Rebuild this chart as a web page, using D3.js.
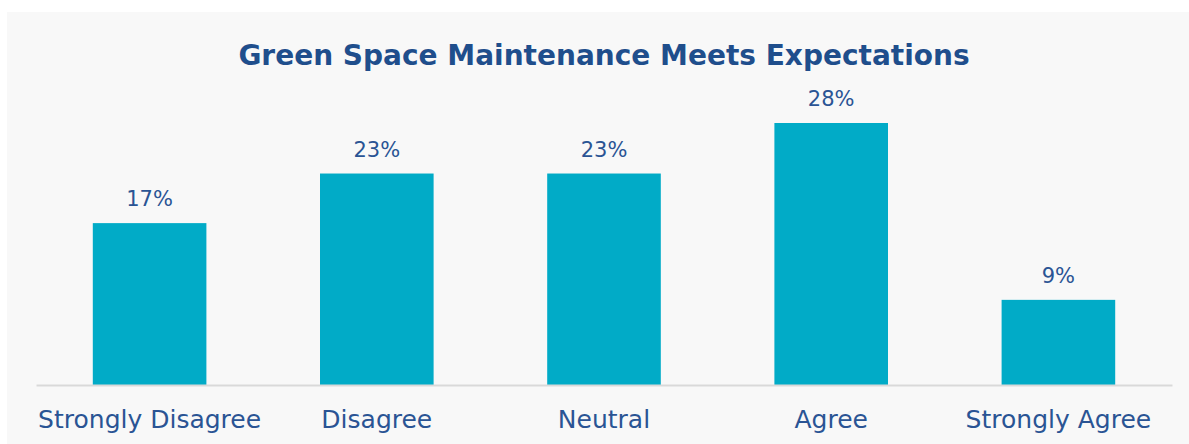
<!DOCTYPE html>
<html>
<head>
<meta charset="utf-8">
<script src="https://cdn.jsdelivr.net/npm/d3@7"></script>
<style>
  body { margin: 0; background: #fff; }
  svg { display: block; }
</style>
</head>
<body>
<div id="chart"></div>
<script>
// data
let categories = ['Strongly Disagree', 'Disagree', 'Neutral', 'Agree', 'Strongly Agree']
let shares = [0.173, 0.226, 0.226, 0.28, 0.091]
let title = 'Green Space Maintenance Meets Expectations'

let fullWidth = 1189
let fullHeight = 444
let margin = { top: 12, left: 36, right: 17, bottom: 59 }
let width = fullWidth - margin.left - margin.right
let height = fullHeight - margin.bottom

let svg = d3
  .select('#chart')
  .append('svg')
  .attr('width', fullWidth)
  .attr('height', fullHeight)

// grey panel behind everything
svg
  .append('rect')
  .attr('x', 7)
  .attr('y', 12)
  .attr('width', fullWidth - 7)
  .attr('height', fullHeight - 12)
  .attr('fill', '#f8f8f8')

let xPositionScale = d3
  .scaleBand()
  .domain(categories)
  .range([margin.left, margin.left + width])
  .paddingInner(0.5)
  .paddingOuter(0.25)

let yPositionScale = d3
  .scaleLinear()
  .domain([0, 0.28])
  .range([height, 123])

let data = categories.map((c, i) => ({ category: c, share: shares[i] }))

svg
  .append('text')
  .attr('x', margin.left + width / 2)
  .attr('y', 65)
  .attr('text-anchor', 'middle')
  .attr('font-family', 'DejaVu Sans')
  .attr('font-weight', 'bold')
  .attr('font-size', 28)
  .attr('fill', '#1f4e8c')
  .text(title)

svg
  .selectAll('.bar')
  .data(data)
  .enter()
  .append('rect')
  .attr('class', 'bar')
  .attr('x', d => xPositionScale(d.category))
  .attr('y', d => yPositionScale(d.share))
  .attr('width', xPositionScale.bandwidth())
  .attr('height', d => height - yPositionScale(d.share))
  .attr('fill', '#01abc7')

svg
  .selectAll('.value-label')
  .data(data)
  .enter()
  .append('text')
  .attr('class', 'value-label')
  .attr('x', d => xPositionScale(d.category) + xPositionScale.bandwidth() / 2)
  .attr('y', d => yPositionScale(d.share))
  .attr('dy', -17)
  .attr('text-anchor', 'middle')
  .attr('font-family', 'DejaVu Sans')
  .attr('font-size', 21)
  .attr('fill', '#2a5494')
  .text(d => d3.format('.0%')(d.share))

// x axis, just the baseline and the category names
let xAxis = d3.axisBottom(xPositionScale).tickSize(0).tickPadding(25)
svg
  .append('g')
  .attr('class', 'axis x-axis')
  .attr('transform', `translate(0,${height})`)
  .call(xAxis)

svg
  .select('.x-axis .domain')
  .attr('stroke', '#d9d9d9')
  .attr('stroke-width', 2)

svg
  .selectAll('.x-axis text')
  .attr('font-family', 'DejaVu Sans')
  .attr('font-size', 25)
  .attr('fill', '#2a5494')
</script>
</body>
</html>
